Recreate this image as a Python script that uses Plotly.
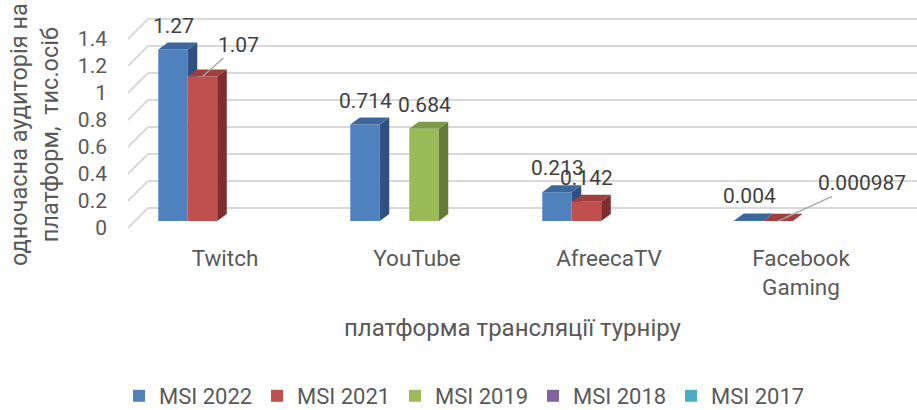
import plotly.graph_objects as go

# ---------------- data ----------------
categories = ["Twitch", "YouTube", "AfreecaTV", "Facebook<br>Gaming"]
series_names = ["MSI 2022", "MSI 2021", "MSI 2019", "MSI 2018", "MSI 2017"]
msi_2022 = [1.27, 0.714, 0.213, 0.004]
msi_2021 = [1.07, None, 0.142, 0.000987]
msi_2019 = [None, 0.684, None, None]
msi_2018 = [None, None, None, None]
msi_2017 = [None, None, None, None]
y_tick_values = [0, 0.2, 0.4, 0.6, 0.8, 1.0, 1.2, 1.4]
y_tick_labels = ["0", "0.2", "0.4", "0.6", "0.8", "1", "1.2", "1.4"]
x_title = "платформа трансляції турніру"
y_title = "одночасна аудиторія на<br>платформ,  тис.осіб"

series_values = [msi_2022, msi_2021, msi_2019, msi_2018, msi_2017]

# ---------------- style ----------------
front_colors = ["#4F81BD", "#C0504D", "#9BBB59", "#8064A2", "#4BACC6"]
top_colors = ["#3C679D", "#A03F3D", "#7E9A47", "#66508A", "#3A8EA6"]
side_colors = ["#2F5080", "#7E2F2D", "#647A37", "#503F6D", "#2E7085"]
FONT = "Roboto, 'Open Sans', sans-serif"
TXT = "#595959"
LBL = "#404040"
GRID = "#D9D9D9"

W, H = 917, 410
PL, PR, PT, PB = 128, 917, 16, 230          # plot area in px
CAT0_PX, CAT_PX = 232, 192                  # category centre / spacing (px)
Y0_PX, PX_PER_UNIT = 221, 135               # bar-plane zero / scale
x_range = [(PL - CAT0_PX) / CAT_PX, (PR - CAT0_PX) / CAT_PX]
y_range = [-(PB - Y0_PX) / PX_PER_UNIT, (Y0_PX - PT) / PX_PER_UNIT]

bargap = 0.232
n_series = len(series_values)
bar_w = (1 - bargap) / n_series
depth_dx = 9.5 / CAT_PX       # 3D depth in category units
depth_dy = 7 / PX_PER_UNIT    # 3D depth in value units
back_dx = 20 / CAT_PX
back_dy = 13 / PX_PER_UNIT
front_dy = 7 / PX_PER_UNIT

xs = list(range(len(categories)))

fig = go.Figure()

# front faces
for i, (name, vals) in enumerate(zip(series_names, series_values)):
    fig.add_trace(go.Bar(
        x=xs, y=vals, name=name, offsetgroup=str(i),
        marker=dict(color=front_colors[i], line=dict(width=0)),
        hoverinfo="skip",
    ))

# 3D top and side faces
def centre(i, c):
    return c + (i - (n_series - 1) / 2) * bar_w

for i, vals in enumerate(series_values):
    tx, ty, sx, sy = [], [], [], []
    for c, v in enumerate(vals):
        if v is None:
            continue
        xc = centre(i, c)
        L, R = xc - bar_w / 2, xc + bar_w / 2
        tx += [L, L + depth_dx, R + depth_dx, R, L, None]
        ty += [v, v + depth_dy, v + depth_dy, v, v, None]
        vn = series_values[i + 1][c] if i + 1 < n_series else None
        if vn is None or vn <= 0:
            sx += [R, R + depth_dx, R + depth_dx, R, R, None]
            sy += [0, depth_dy, v + depth_dy, v, 0, None]
        elif vn < v:
            if vn >= depth_dy:
                sx += [R, R + depth_dx, R + depth_dx, R, R, None]
                sy += [vn, vn, v + depth_dy, v, vn, None]
            else:
                xm = R + vn / depth_dy * depth_dx
                sx += [R, xm, R + depth_dx, R + depth_dx, R, R, None]
                sy += [vn, vn, depth_dy, v + depth_dy, v, vn, None]
    if tx:
        fig.add_trace(go.Scatter(x=sx, y=sy, mode="lines", fill="toself",
                                 fillcolor=side_colors[i], line=dict(width=0),
                                 showlegend=False, hoverinfo="skip"))
        fig.add_trace(go.Scatter(x=tx, y=ty, mode="lines", fill="toself",
                                 fillcolor=top_colors[i], line=dict(width=0),
                                 showlegend=False, hoverinfo="skip"))

# gridlines on back wall + diagonal connectors
shapes = []
for g in y_tick_values:
    shapes.append(dict(type="line", xref="x", yref="y", layer="below",
                       x0=x_range[0] + back_dx, x1=x_range[1],
                       y0=g + back_dy, y1=g + back_dy,
                       line=dict(color=GRID, width=2)))
    shapes.append(dict(type="line", xref="x", yref="y", layer="below",
                       x0=x_range[0], x1=x_range[0] + back_dx,
                       y0=g - front_dy, y1=g + back_dy,
                       line=dict(color=GRID, width=2)))

# data labels
leader = {(1, 0): (36, -32), (1, 3): (83, -38)}
annotations = []
for i, vals in enumerate(series_values):
    for c, v in enumerate(vals):
        if v is None:
            continue
        xc = centre(i, c)
        if (i, c) in leader:
            ax, ay = leader[(i, c)]
            annotations.append(dict(x=xc, y=v, xref="x", yref="y", text=str(v),
                                    showarrow=True, arrowhead=0, arrowwidth=1.5,
                                    arrowcolor="#A6A6A6", ax=ax, ay=ay,
                                    font=dict(family=FONT, size=21, color=LBL)))
        else:
            annotations.append(dict(x=xc, y=v + depth_dy, xref="x", yref="y",
                                    text=str(v), showarrow=False, yshift=17,
                                    font=dict(family=FONT, size=21, color=LBL)))

plot_h = PB - PT
plot_w = PR - PL
annotations.append(dict(text=x_title, xref="paper", yref="paper",
                        x=(513 - PL) / plot_w, y=(PB - 328) / plot_h,
                        showarrow=False, xanchor="center", yanchor="middle",
                        font=dict(family=FONT, size=24, color=TXT)))
annotations.append(dict(text=y_title, xref="paper", yref="paper",
                        x=(34 - PL) / plot_w, y=(PB - 135) / plot_h,
                        showarrow=False, xanchor="center", yanchor="middle",
                        textangle=-90, font=dict(family=FONT, size=23.5, color=TXT)))

fig.update_layout(
    width=W, height=H,
    margin=dict(l=PL, r=W - PR, t=PT, b=H - PB, pad=0, autoexpand=False),
    paper_bgcolor="white", plot_bgcolor="white",
    barmode="group", bargap=bargap, bargroupgap=0,
    font=dict(family=FONT, size=21, color=TXT),
    shapes=shapes, annotations=annotations,
    showlegend=True,
    legend=dict(orientation="h", xref="container", yref="container",
                x=119 / W, y=1 - 396 / H,
                xanchor="left", yanchor="middle",
                font=dict(family=FONT, size=22, color=TXT),
                entrywidth=93, itemwidth=30, traceorder="normal"),
    xaxis=dict(range=x_range, tickvals=xs, ticktext=categories, automargin=False,
               showgrid=False, zeroline=False, showline=False, ticks="",
               tickfont=dict(size=22.5),
               ticklabelshift=-7, ticklabelstandoff=12, fixedrange=True),
    yaxis=dict(range=y_range, tickvals=y_tick_values, ticktext=y_tick_labels,
               automargin=False,
               showgrid=False, zeroline=False, showline=False, ticks="",
               ticklabelshift=7, ticklabelstandoff=20, fixedrange=True),
)

fig.write_html("out.html", config={"displayModeBar": False},
               post_script="document.body.style.margin='0';document.body.style.overflow='hidden';")
